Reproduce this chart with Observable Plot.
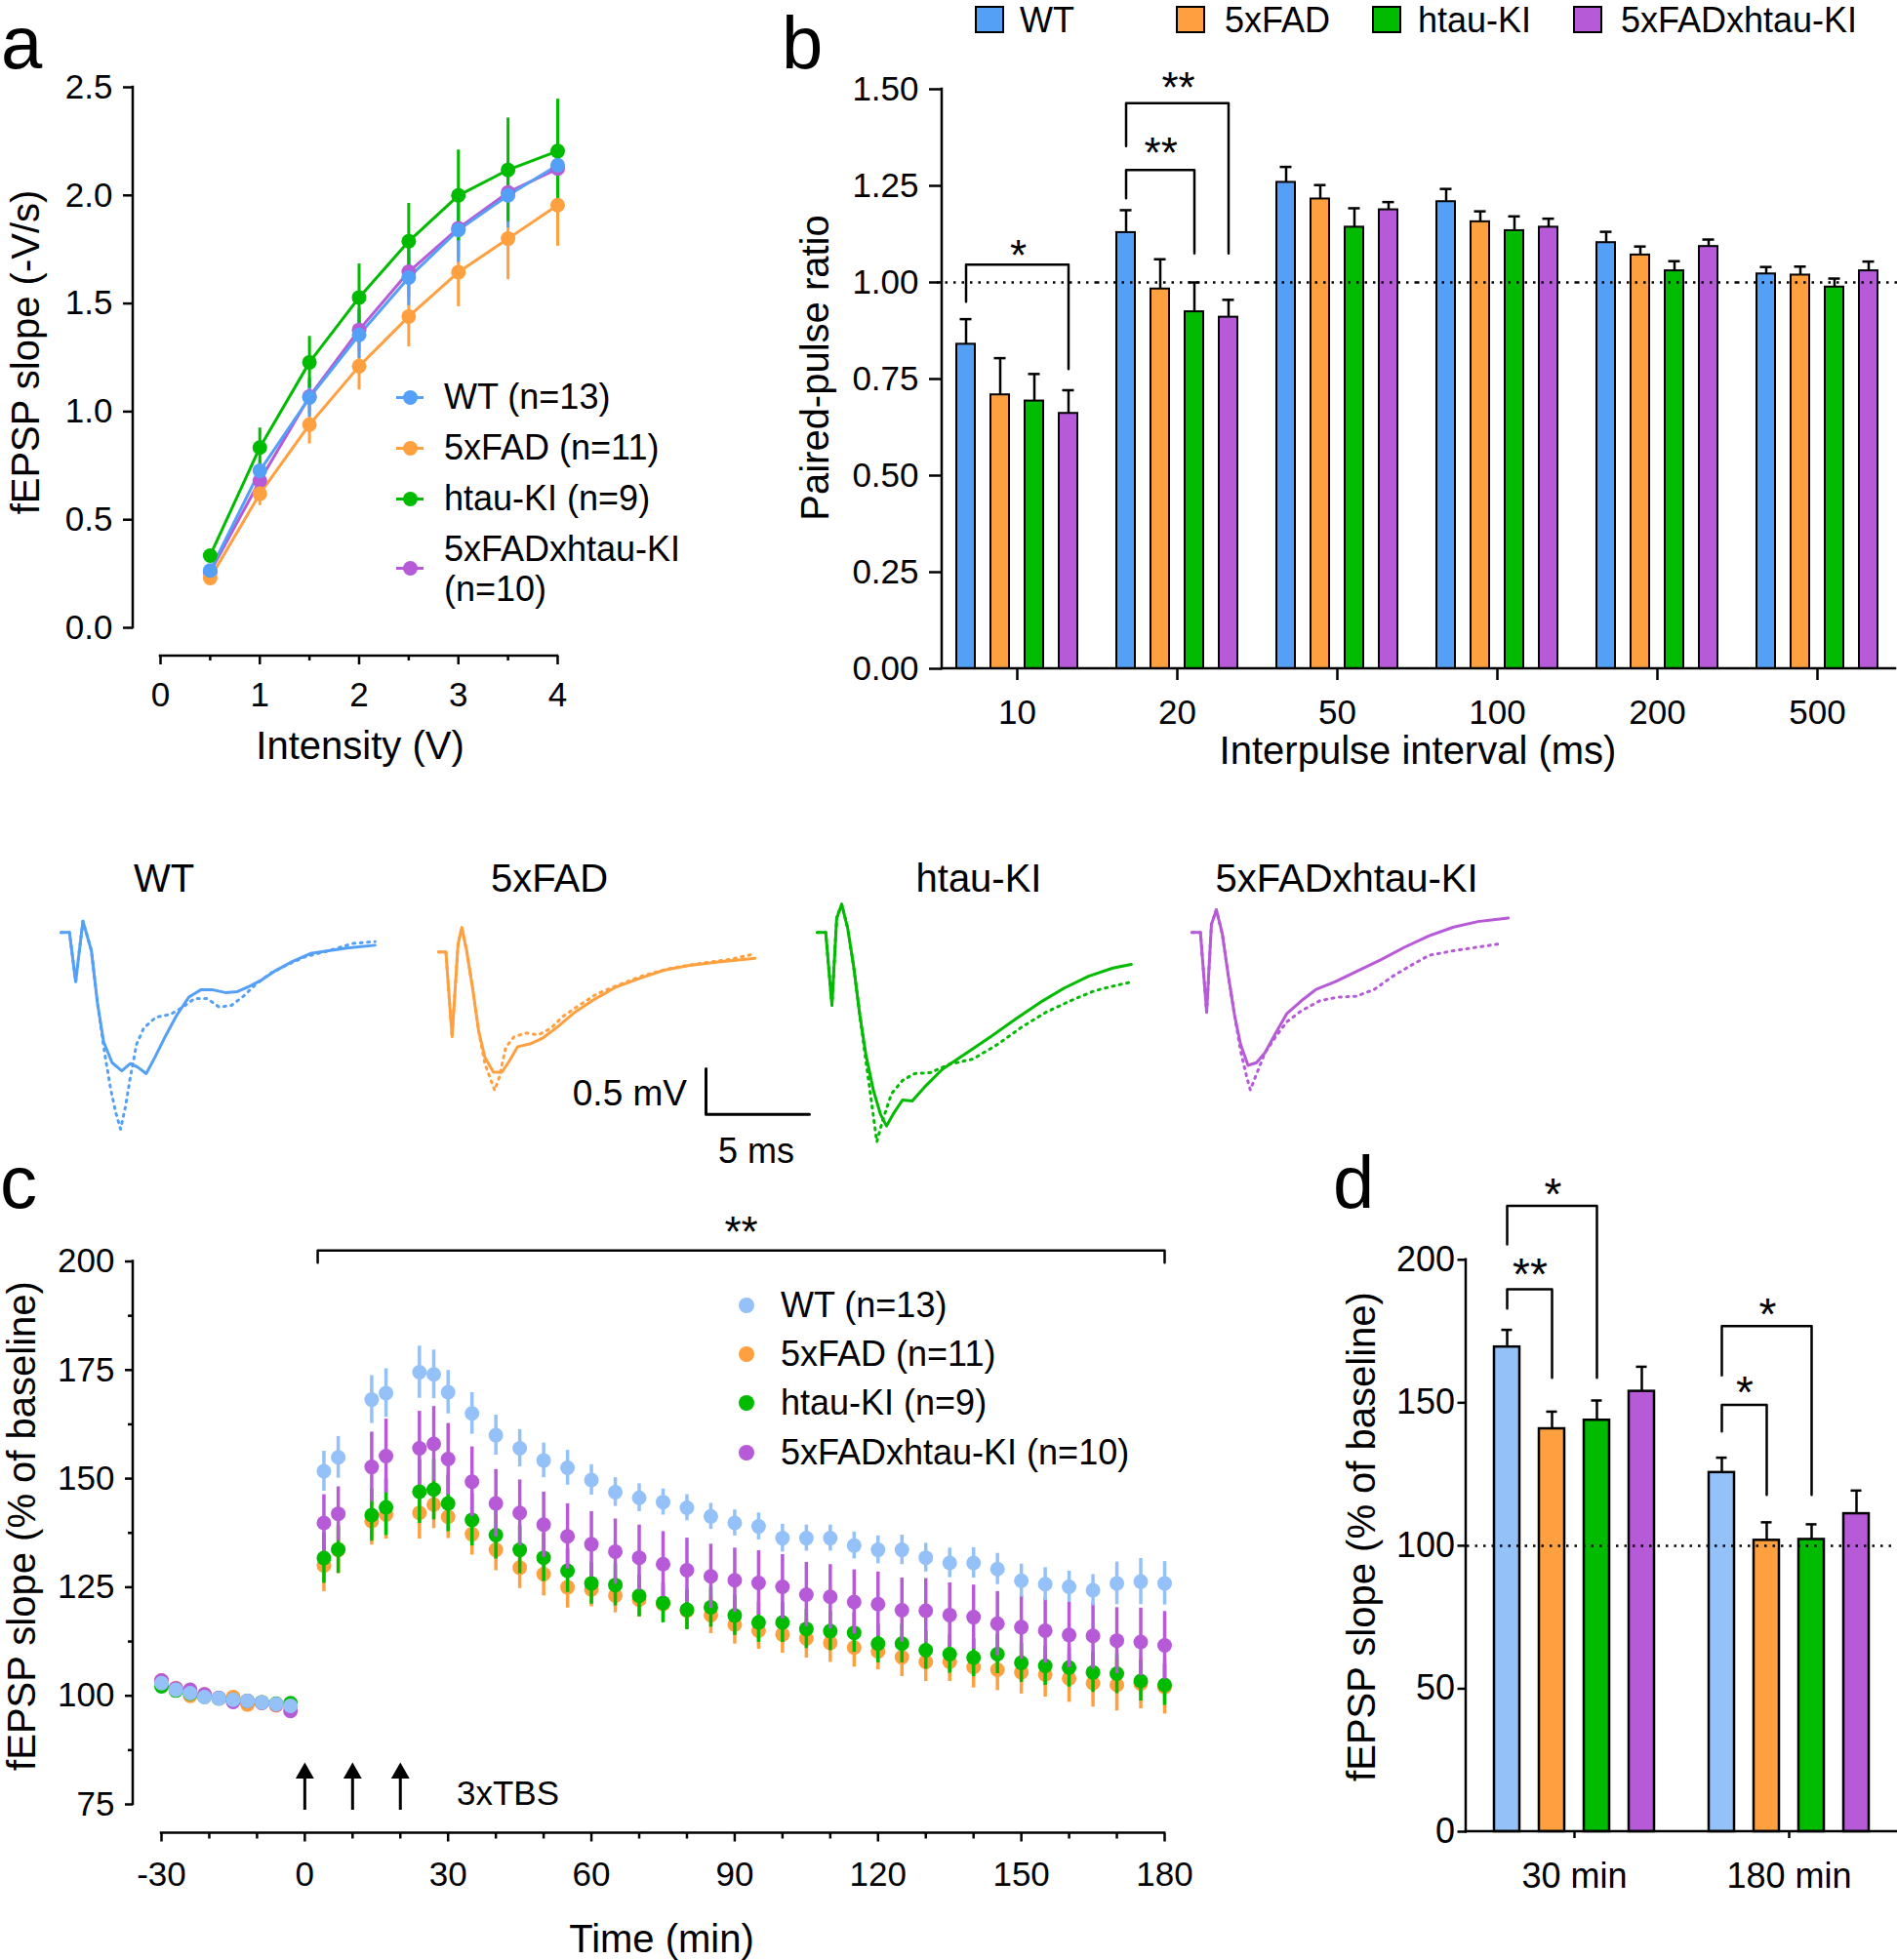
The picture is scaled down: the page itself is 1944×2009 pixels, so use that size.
<!DOCTYPE html>
<html><head><meta charset="utf-8">
<script src="https://cdn.jsdelivr.net/npm/d3@7"></script>
<script src="https://cdn.jsdelivr.net/npm/@observablehq/plot@0.6"></script>
<style>
html,body{margin:0;padding:0;background:#fff;overflow:hidden;}
#fig{position:relative;width:1944px;height:2009px;overflow:hidden;background:#fff;font-family:"Liberation Sans",Arial,Helvetica,sans-serif;color:#000;}
.lbl{position:absolute;white-space:nowrap;line-height:1;}
</style></head><body><div id="fig"></div>
<script>
// ---------------- data ----------------
const genotypes = ["WT", "5xFAD", "htau-KI", "5xFADxhtau-KI"];
const colorsAB = ["#55A0F7", "#FFA040", "#00BB00", "#B65AD8"];
const colorsCD = ["#94C1F8", "#FFA040", "#00BB00", "#B65AD8"];

// panel a: input-output
const intensity = [0.5, 1, 1.5, 2, 2.5, 3, 3.5, 4];
const aWT = [0.265, 0.726, 1.065, 1.355, 1.62, 1.84, 2.00, 2.14];
const aWTerr = [0.02, 0.05, 0.09, 0.11, 0.13, 0.15, 0.15, 0.15];
const a5x = [0.23, 0.62, 0.94, 1.21, 1.44, 1.645, 1.80, 1.955];
const a5xerr = [0.02, 0.055, 0.09, 0.11, 0.14, 0.16, 0.19, 0.19];
const aHt = [0.334, 0.834, 1.228, 1.528, 1.788, 2.0, 2.118, 2.205];
const aHterr = [0.02, 0.09, 0.12, 0.155, 0.175, 0.21, 0.24, 0.24];
const aDb = [0.258, 0.68, 1.07, 1.378, 1.647, 1.848, 2.014, 2.124];
const aDberr = [0.02, 0.05, 0.08, 0.10, 0.12, 0.14, 0.14, 0.14];
const aLegend = ["WT (n=13)", "5xFAD (n=11)", "htau-KI (n=9)", "5xFADxhtau-KI|(n=10)"];

// panel b: paired-pulse ratio
const intervals = ["10", "20", "50", "100", "200", "500"];
const bWT = [0.840, 1.129, 1.259, 1.209, 1.103, 1.022];
const bWTerr = [0.065, 0.058, 0.040, 0.033, 0.028, 0.018];
const b5x = [0.709, 0.983, 1.216, 1.157, 1.071, 1.019];
const b5xerr = [0.095, 0.077, 0.036, 0.027, 0.022, 0.022];
const bHt = [0.693, 0.924, 1.143, 1.134, 1.030, 0.988];
const bHterr = [0.070, 0.076, 0.049, 0.037, 0.025, 0.022];
const bDb = [0.661, 0.910, 1.188, 1.143, 1.093, 1.030];
const bDberr = [0.060, 0.045, 0.020, 0.022, 0.018, 0.024];
const bBrackets = [
  {iv: "10", from: 0, to: 3, yl: 0.95, yt: 1.046, yr: 0.776, starY: 1.091, star: "*"},
  {iv: "20", from: 0, to: 2, yl: 1.218, yt: 1.291, yr: 1.075, starY: 1.355, star: "**"},
  {iv: "20", from: 0, to: 3, yl: 1.353, yt: 1.464, yr: 1.075, starY: 1.523, star: "**"}
];

// sample traces (ms, mV): solid = baseline, dotted = after LTP
const trWTsolid = [[0,0],[0.41,0],[0.71,-0.54],[1.06,0.125],[1.47,-0.20],[1.76,-0.77],[2.06,-1.20],[2.47,-1.43],[2.94,-1.52],[3.35,-1.44],[3.71,-1.48],[4.12,-1.55],[4.53,-1.375],[5.0,-1.16],[5.59,-0.91],[6.18,-0.71],[6.76,-0.63],[7.35,-0.63],[7.94,-0.66],[8.53,-0.65],[9.12,-0.59],[9.71,-0.52],[10.29,-0.43],[11.18,-0.32],[12.06,-0.23],[12.94,-0.20],[13.82,-0.17],[15.18,-0.14]];
const trWTdot = [[0,0],[0.41,0],[0.71,-0.54],[1.06,0.125],[1.47,-0.2],[1.76,-0.77],[2.12,-1.34],[2.41,-1.73],[2.65,-1.98],[2.88,-2.16],[3.12,-1.91],[3.35,-1.59],[3.65,-1.23],[4.0,-1.05],[4.59,-0.93],[5.29,-0.90],[5.88,-0.82],[6.47,-0.725],[7.06,-0.725],[7.65,-0.82],[8.24,-0.80],[8.82,-0.70],[9.41,-0.57],[10.12,-0.45],[10.88,-0.36],[11.76,-0.27],[12.94,-0.20],[14.12,-0.12],[15.18,-0.10]];
const tr5xsolid = [[0,0],[0.35,0],[0.65,-0.93],[0.94,0.09],[1.12,0.27],[1.35,0.02],[1.65,-0.41],[1.94,-0.875],[2.24,-1.16],[2.65,-1.32],[3.06,-1.32],[3.41,-1.20],[3.82,-1.04],[4.41,-1.01],[5.0,-0.95],[5.76,-0.82],[6.59,-0.66],[7.53,-0.52],[8.53,-0.39],[9.71,-0.29],[10.88,-0.20],[12.06,-0.15],[13.53,-0.11],[15.29,-0.07]];
const tr5xdot = [[0,0],[0.35,0],[0.65,-0.93],[0.94,0.09],[1.12,0.27],[1.35,0.02],[1.65,-0.41],[1.94,-0.875],[2.24,-1.23],[2.53,-1.41],[2.71,-1.52],[2.94,-1.37],[3.24,-1.05],[3.65,-0.93],[4.24,-0.89],[4.82,-0.91],[5.41,-0.84],[6.0,-0.71],[6.76,-0.59],[7.65,-0.46],[8.71,-0.36],[9.88,-0.26],[11.18,-0.18],[12.65,-0.125],[14.12,-0.08],[15.29,-0.02]];
const trHtsolid = [[0,0],[0.41,0],[0.71,-0.80],[0.94,0.16],[1.18,0.31],[1.47,0.05],[1.76,-0.375],[2.06,-0.91],[2.35,-1.34],[2.71,-1.73],[3.06,-2.0],[3.35,-2.125],[3.71,-1.98],[4.12,-1.84],[4.59,-1.85],[5.18,-1.70],[6.06,-1.50],[7.24,-1.32],[8.41,-1.14],[9.59,-0.95],[10.76,-0.77],[11.94,-0.61],[13.12,-0.48],[14.29,-0.39],[15.18,-0.35]];
const trHtdot = [[0,0],[0.41,0],[0.71,-0.80],[0.94,0.16],[1.18,0.31],[1.47,0.05],[1.76,-0.375],[2.06,-0.91],[2.35,-1.41],[2.65,-1.91],[2.88,-2.30],[3.18,-2.05],[3.59,-1.77],[4.12,-1.625],[4.71,-1.55],[5.47,-1.54],[6.35,-1.45],[7.53,-1.39],[8.71,-1.23],[9.88,-1.04],[11.06,-0.875],[12.24,-0.75],[13.41,-0.64],[14.29,-0.59],[15.06,-0.55]];
const trDbsolid = [[0,0],[0.41,0],[0.71,-0.875],[0.94,0.09],[1.18,0.25],[1.47,-0.02],[1.76,-0.48],[2.06,-0.91],[2.35,-1.23],[2.71,-1.46],[3.12,-1.43],[3.53,-1.32],[4.0,-1.125],[4.59,-0.89],[5.29,-0.75],[6.0,-0.625],[6.94,-0.54],[7.94,-0.43],[9.12,-0.30],[10.29,-0.16],[11.47,-0.036],[12.65,0.06],[13.82,0.12],[15.29,0.16]];
const trDbdot = [[0,0],[0.41,0],[0.71,-0.875],[0.94,0.09],[1.18,0.25],[1.47,-0.02],[1.76,-0.48],[2.06,-0.91],[2.35,-1.30],[2.65,-1.59],[2.82,-1.73],[3.06,-1.59],[3.53,-1.32],[4.0,-1.16],[4.59,-0.98],[5.29,-0.86],[6.18,-0.75],[7.06,-0.71],[7.94,-0.70],[8.82,-0.625],[9.71,-0.48],[10.59,-0.36],[11.47,-0.25],[12.65,-0.20],[13.82,-0.16],[15.0,-0.12]];
const scaleBarMs = 5, scaleBarMv = 0.5;

// panel c: LTP time course
const cTimes = [-30,-27,-24,-21,-18,-15,-12,-9,-6,-3,4,7,14,17,24,27,30,35,40,45,50,55,60,65,70,75,80,85,90,95,100,105,110,115,120,125,130,135,140,145,150,155,160,165,170,175,180];
const cWT = [102.9,101.4,100.6,99.7,99.4,99.1,98.8,98.5,98.1,97.7, 151.7,154.9,168.2,169.7,174.5,174.0,169.9, 165.0,160.0,157.0,154.2,152.5,149.7,146.9,145.6,144.6,143.3, 141.3,139.8,139.0,136.3,136.3,136.3,134.6,133.6,133.6,131.8, 130.6,130.6,129.2,126.5,125.7,125.1,124.3,125.9,126.3,125.9];
const cWTerr = [1.2,1,1,1,1,1,1,1,1,1, 4.6,4.8,5.5,5.6,6.0,5.6,5.0, 4.8,4.6,4.3,4.0,4.0,3.5,3.3,3.2,3.0,3.0, 3.0,3.0,3.1,3.2,3.0,3.0,3.1,3.2,3.4,3.3, 3.4,3.5,3.6,3.8,3.8,3.6,3.6,4.9,5.3,5.0];
const c5x = [103.5,101.8,100.0,100.3,99.4,99.7,98.0,98.5,97.8,97.5, 130.0,133.6,140.2,141.7,142.1,144.0,141.2, 137.2,133.6,129.5,128.0,125.0,124.5,123.1,122.1,121.1,119.6, 118.6,116.4,115.0,114.1,113.2,112.2,111.1,110.2,108.9,107.8, 107.8,106.6,106.0,105.4,104.9,104.0,102.9,102.5,102.8,102.0];
const c5xerr = [1,1,1,1,1,1,1,1,1,1, 6.0,5.5,5.5,5.6,6.0,5.5,5.0, 4.8,4.8,4.8,5.0,4.8,4.0,4.0,4.0,4.0,4.2, 4.3,4.5,4.3,4.3,4.5,4.5,4.5,4.2,4.5,4.5, 4.5,4.8,4.8,5.0,5.2,5.5,5.5,6.0,5.8,6.2];
const cHt = [102.2,101.2,100.5,99.8,99.4,99.0,98.8,98.5,98.2,98.3, 131.7,133.7,141.6,143.4,147.0,147.5,144.3, 140.5,137.0,133.6,131.8,128.8,125.9,125.5,123.0,121.4,119.8, 120.4,118.5,116.9,116.9,115.4,114.9,114.5,112.0,112.0,110.5, 109.6,108.8,109.6,107.6,106.9,106.5,105.4,105.1,103.4,102.5];
const cHterr = [1,1,1,1,1,1,1,1,1,1, 5.8,5.5,6.0,6.5,7.3,7.0,6.5, 6.0,5.5,5.5,5.5,5.0,4.8,4.8,4.8,4.6,4.6, 4.6,4.6,4.6,4.6,4.5,4.5,4.5,4.4,4.4,4.4, 4.4,4.4,4.5,4.5,4.5,4.5,4.6,4.6,4.6,4.7];
const cDb = [103.5,101.7,101.4,100.3,99.5,98.6,98.8,98.4,98.0,96.5, 139.8,141.9,152.7,155.2,157.0,158.0,154.5, 149.3,144.3,142.1,139.4,136.7,134.9,133.2,131.8,130.3,128.9, 127.5,126.6,126.0,125.1,123.3,122.8,121.6,121.1,119.7,119.6, 118.6,118.1,116.6,115.8,115.0,114.0,113.8,112.7,112.4,111.6];
const cDberr = [1,1,1,1,1,1,1,1,1,1, 6.5,6.2,8.0,8.5,8.5,8.6,8.2, 8.0,7.8,7.6,7.5,7.5,7.5,7.5,7.5,7.5,7.4, 7.4,7.4,7.4,7.4,7.4,7.4,7.4,7.4,7.4,7.4, 7.4,7.4,7.4,7.4,7.5,7.5,7.6,7.6,7.8,7.8];
const cLegend = ["WT (n=13)", "5xFAD (n=11)", "htau-KI (n=9)", "5xFADxhtau-KI (n=10)"];
const tbsTimes = [0, 10, 20];
const cBracket = {t1: 2.7, t2: 180, yTop: 202.5, yEnd: 199.7, starY: 208.6, star: "**"};

// panel d: LTP magnitude
const dGroups = ["30 min", "180 min"];
const dWT = [169.5, 125.6], dWTerr = [6.0, 5.2];
const d5x = [140.9, 101.9], d5xerr = [6.0, 6.3];
const dHt = [143.9, 102.2], dHterr = [6.9, 5.3];
const dDb = [154.0, 111.2], dDberr = [8.6, 8.1];
const dBrackets = [
  {grp: "30 min", from: 0, to: 1, yl: 183, yt: 189.7, yr: 158.7, starY: 197.6, star: "**"},
  {grp: "30 min", from: 0, to: 2, yl: 205.4, yt: 218.9, yr: 158.7, starY: 225.6, star: "*"},
  {grp: "180 min", from: 0, to: 1, yl: 140, yt: 149.3, yr: 117.8, starY: 156.4, star: "*"},
  {grp: "180 min", from: 0, to: 2, yl: 159.6, yt: 176.8, yr: 117.8, starY: 183.6, star: "*"}
];

// ---------------- helpers ----------------
const FONT = '"Liberation Sans", Arial, Helvetica, sans-serif';
const fig = document.getElementById("fig");
const plain = d => String(d);
function place(node, left, top) {
  node.style.position = "absolute"; node.style.left = left + "px"; node.style.top = top + "px";
  fig.appendChild(node); return node;
}
function label(text, x, y, {size = 36, anchor = "middle", rotate = 0} = {}) {
  const d = document.createElement("div");
  d.className = "lbl"; d.textContent = text;
  d.style.fontSize = size + "px"; d.style.left = x + "px"; d.style.top = y + "px";
  const tx = anchor === "middle" ? "-50%" : anchor === "end" ? "-100%" : "0";
  d.style.transform = `translate(${tx},-50%)` + (rotate ? ` rotate(${rotate}deg)` : "");
  fig.appendChild(d); return d;
}
function letter(text, left, baseline, size = 76) {
  const d = document.createElement("div");
  d.className = "lbl"; d.textContent = text; d.style.fontSize = size + "px";
  d.style.lineHeight = "0.75";
  d.style.left = left + "px"; d.style.top = (baseline - 0.7215 * size) + "px";
  fig.appendChild(d);
}
function box(left, top, w, h, css) {
  const d = document.createElement("div");
  d.style.cssText = `position:absolute;left:${left}px;top:${top}px;width:${w}px;height:${h}px;box-sizing:border-box;${css}`;
  fig.appendChild(d);
}
function addLine(svg, x1, y1, x2, y2, w = 2.5) {
  d3.select(svg).append("line").attr("x1", x1).attr("y1", y1).attr("x2", x2).attr("y2", y2)
    .attr("stroke", "black").attr("stroke-width", w).attr("stroke-linecap", "square");
}
const baseStyle = (fs) => ({fontFamily: FONT, fontSize: fs + "px", color: "black", background: "transparent", overflow: "visible"});

// ---------------- panel a ----------------
const aVals = [aWT, a5x, aHt, aDb], aErrs = [aWTerr, a5xerr, aHterr, aDberr];
const aData = [];
for (const gi of [3, 1, 0, 2]) intensity.forEach((x, i) => aData.push({g: genotypes[gi], x, y: aVals[gi][i], e: aErrs[gi][i]}));
{
  const W = 720, H = 800, ML = 136, MB = 128;
  const plotA = Plot.plot({
    width: W, height: H, marginLeft: ML, marginRight: 149, marginTop: 89, marginBottom: MB,
    style: baseStyle(35),
    x: {domain: [0, 4], insetLeft: 28, label: null},
    y: {domain: [0, 2.5], insetBottom: 29, label: null},
    color: {domain: genotypes, range: colorsAB},
    marks: [
      Plot.axisY({ticks: [0, 0.5, 1, 1.5, 2, 2.5], tickFormat: d3.format(".1f"), tickSize: 10, tickPadding: 11, strokeWidth: 2.5, label: null, fontSize: 35}),
      Plot.axisX({ticks: [0, 1, 2, 3, 4], tickFormat: plain, tickSize: 9, tickPadding: 18, strokeWidth: 2.5, label: null, fontSize: 35}),
      Plot.axisX({ticks: [0.5, 1.5, 2.5, 3.5], tickSize: 5, tickFormat: () => "", strokeWidth: 2.5, label: null}),
      Plot.ruleX(aData, {x: "x", y1: d => d.y - d.e, y2: d => d.y + d.e, stroke: "g", strokeWidth: 3}),
      Plot.line(aData, {x: "x", y: "y", z: "g", stroke: "g", strokeWidth: 3}),
      Plot.dot(aData, {x: "x", y: "y", fill: "g", r: 7.5})
    ]
  });
  const xs = plotA.scale("x"), ys = plotA.scale("y");
  addLine(plotA, ML, ys.apply(0), ML, ys.apply(2.5));
  addLine(plotA, xs.apply(0), H - MB, xs.apply(4), H - MB);
  place(plotA, 0, 0);
}
letter("a", 1, 70);
label("fEPSP slope (-V/s)", 26, 361, {size: 40, rotate: -90});
label("Intensity (V)", 369, 764, {size: 40});
{
  const rows = [407, 459, 511, 582];
  aLegend.forEach((t, i) => {
    const y = rows[i], c = colorsAB[i];
    box(406, y - 1.5, 28, 3, `background:${c}`);
    box(412.5, y - 7.5, 15, 15, `background:${c};border-radius:50%`);
    const parts = t.split("|");
    if (parts.length === 1) label(parts[0], 455, y, {anchor: "start", size: 36});
    else { label(parts[0], 455, y - 19, {anchor: "start", size: 36}); label(parts[1], 455, y + 22, {anchor: "start", size: 36}); }
  });
}

// ---------------- panel b ----------------
const bVals = [bWT, b5x, bHt, bDb], bErrs = [bWTerr, b5xerr, bHterr, bDberr];
const bData = [];
intervals.forEach((iv, i) => genotypes.forEach((g, gi) => bData.push({iv, g, y: bVals[gi][i], e: bErrs[gi][i]})));
const bLines = [];
bBrackets.forEach((b, k) => {
  const f = genotypes[b.from], t = genotypes[b.to];
  bLines.push({k, iv: b.iv, g: f, y: b.yl}, {k, iv: b.iv, g: f, y: b.yt}, {k, iv: b.iv, g: t, y: b.yt}, {k, iv: b.iv, g: t, y: b.yr});
});
{
  const W = 1184, H = 800, ML = 205, MB = 115, stepB = 35.73;
  const plotB = Plot.plot({
    width: W, height: H, marginLeft: 200, marginRight: 0, marginTop: 91, marginBottom: MB,
    style: baseStyle(35),
    fx: {domain: intervals, paddingInner: 0, paddingOuter: 0, label: null},
    x: {domain: genotypes, paddingInner: 0.468, paddingOuter: 0.529, axis: null},
    y: {domain: [0, 1.5], axis: null},
    color: {domain: genotypes, range: colorsAB},
    marks: [
      Plot.axisFx({anchor: "bottom", tickSize: 12, tickPadding: 20, strokeWidth: 2.5, label: null, fontSize: 35}),
      Plot.axisY({ticks: [0, 0.25, 0.5, 0.75, 1, 1.25, 1.5], tickFormat: d3.format(".2f"), tickSize: 13, tickPadding: 11, strokeWidth: 2.5, label: null, fontSize: 35, dx: 5}),
      Plot.ruleX(bData, {fx: "iv", x: "g", y1: "y", y2: d => d.y + d.e, strokeWidth: 2.5}),
      Plot.tickY(bData, {fx: "iv", x: "g", y: d => d.y + d.e, insetLeft: 3.5, insetRight: 3.5, strokeWidth: 2.5}),
      Plot.barY(bData, {fx: "iv", x: "g", y: "y", fill: "g", stroke: "black", strokeWidth: 2}),
      Plot.ruleY([1], {stroke: "black", strokeDasharray: "2.5,6", strokeWidth: 2.5}),
      Plot.line(bLines, {fx: "iv", x: "g", y: "y", z: "k", stroke: "black", strokeWidth: 2.5}),
      ...bBrackets.map(b => Plot.text([b], {fx: "iv", x: () => genotypes[b.from], y: "starY", text: "star",
        dx: (b.to - b.from) * stepB / 2, dy: 9, fontSize: 44, lineAnchor: "middle"}))
    ]
  });
  const ys = plotB.scale("y");
  addLine(plotB, ML, ys.apply(0), ML, ys.apply(1.5));
  addLine(plotB, ML, H - MB, W - 2, H - MB);
  place(plotB, 760, 0);
}
letter("b", 801, 70);
label("Paired-pulse ratio", 835, 377, {size: 40, rotate: -90});
label("Interpulse interval (ms)", 1453, 769, {size: 40});
{
  const sq = [999, 1205, 1406, 1612], tx = [1045, 1255, 1453, 1661];
  genotypes.forEach((g, i) => {
    box(sq[i], 6, 30, 28, `background:${colorsAB[i]};border:2.5px solid #000`);
    label(g, tx[i], 21, {anchor: "start", size: 36});
  });
}

// ---------------- traces ----------------
const PXMS = 21.2, PXMV = 93.3, TM = 6;
function tracePlot(solid, dotted, color, x0, y0) {
  const xd = [0, 15.6], yd = [-2.4, 0.4];
  const p = Plot.plot({
    width: 2 * TM + (xd[1] - xd[0]) * PXMS, height: 2 * TM + (yd[1] - yd[0]) * PXMV,
    margin: TM, style: baseStyle(30),
    x: {domain: xd, axis: null}, y: {domain: yd, axis: null},
    marks: [
      Plot.line(dotted, {x: d => d[0], y: d => d[1], stroke: color, strokeWidth: 3, strokeDasharray: "2,5.5"}),
      Plot.line(solid, {x: d => d[0], y: d => d[1], stroke: color, strokeWidth: 3})
    ]
  });
  place(p, x0 - TM, y0 - yd[1] * PXMV - TM);
}
tracePlot(trWTsolid, trWTdot, colorsAB[0], 62, 955);
tracePlot(tr5xsolid, tr5xdot, colorsAB[1], 449, 975);
tracePlot(trHtsolid, trHtdot, colorsAB[2], 837, 955);
tracePlot(trDbsolid, trDbdot, colorsAB[3], 1221, 955);
{
  const bar = [{t: 0, v: scaleBarMv}, {t: 0, v: 0}, {t: scaleBarMs, v: 0}];
  const p = Plot.plot({
    width: 2 * TM + scaleBarMs * PXMS, height: 2 * TM + scaleBarMv * PXMV, margin: TM,
    style: baseStyle(30),
    x: {domain: [0, scaleBarMs], axis: null}, y: {domain: [0, scaleBarMv], axis: null},
    marks: [Plot.line(bar, {x: "t", y: "v", stroke: "black", strokeWidth: 3})]
  });
  place(p, 723 - TM, 1095 - TM);
}
label("0.5 mV", 704, 1120, {size: 37, anchor: "end"});
label("5 ms", 775, 1180, {size: 36});
[["WT", 168], ["5xFAD", 563], ["htau-KI", 1003], ["5xFADxhtau-KI", 1380]].forEach(([t, x]) => label(t, x, 900, {size: 40}));

// ---------------- panel c ----------------
const cVals = [cWT, c5x, cHt, cDb], cErrs = [cWTerr, c5xerr, cHterr, cDberr];
{
  const W = 1250, H = 809, ML = 136, MB = 130.5;
  const order = [1, 2, 3, 0];
  const seriesMarks = [];
  for (const gi of order) {
    const data = cTimes.map((t, i) => ({t, y: cVals[gi][i], e: cErrs[gi][i]}));
    seriesMarks.push(
      Plot.ruleX(data, {x: "t", y1: d => d.y - d.e, y2: d => d.y + d.e, stroke: colorsCD[gi], strokeWidth: 3.5}),
      Plot.dot(data, {x: "t", y: "y", fill: colorsCD[gi], r: 7.5})
    );
  }
  const br = [{t: cBracket.t1, y: cBracket.yEnd}, {t: cBracket.t1, y: cBracket.yTop}, {t: cBracket.t2, y: cBracket.yTop}, {t: cBracket.t2, y: cBracket.yEnd}];
  const plotC = Plot.plot({
    width: W, height: H, marginLeft: ML, marginRight: 57, marginTop: 92.5, marginBottom: MB,
    style: baseStyle(35),
    x: {domain: [-30, 180], insetLeft: 29, label: null},
    y: {domain: [75, 200], insetBottom: 29.5, label: null},
    marks: [
      Plot.axisY({ticks: [75, 100, 125, 150, 175, 200], tickFormat: plain, tickSize: 8, tickPadding: 11, strokeWidth: 2.5, label: null, fontSize: 35}),
      Plot.axisY({ticks: [87.5, 112.5, 137.5, 162.5, 187.5], tickSize: 5, tickFormat: () => "", strokeWidth: 2.5, label: null}),
      Plot.axisX({ticks: [-30, 0, 30, 60, 90, 120, 150, 180], tickFormat: plain, tickSize: 9, tickPadding: 20, strokeWidth: 2.5, label: null, fontSize: 35}),
      Plot.axisX({ticks: [-20, -10, 10, 20, 40, 50, 70, 80, 100, 110, 130, 140, 160, 170], tickSize: 6, tickFormat: () => "", strokeWidth: 2.5, label: null}),
      ...seriesMarks,
      Plot.line(br, {x: "t", y: "y", stroke: "black", strokeWidth: 2.5}),
      Plot.text([cBracket], {x: d => (d.t1 + d.t2) / 2, y: "starY", text: "star", fontSize: 44, dy: 9, lineAnchor: "middle"}),
      Plot.ruleX(tbsTimes, {x: d => d, y1: 73.65, y2: 82.2, stroke: "black", strokeWidth: 3}),
      Plot.dot(tbsTimes, {x: d => d, y: 82.2, symbol: "triangle", r: 7, fill: "black"})
    ]
  });
  const xs = plotC.scale("x"), ys = plotC.scale("y");
  addLine(plotC, ML, ys.apply(75), ML, ys.apply(200));
  addLine(plotC, xs.apply(-30), H - MB, xs.apply(180), H - MB);
  place(plotC, 0, 1200);
}
letter("c", 0, 1238);
label("fEPSP slope (% of baseline)", 22, 1564, {size: 40, rotate: -90});
label("Time (min)", 678, 1987, {size: 40});
label("3xTBS", 468, 1837, {size: 35, anchor: "start"});
{
  const rows = [1338, 1388, 1438, 1489];
  cLegend.forEach((t, i) => {
    box(757, rows[i] - 8, 16, 16, `background:${colorsCD[i]};border-radius:50%`);
    label(t, 800, rows[i], {anchor: "start", size: 36});
  });
}

// ---------------- panel d ----------------
const dVals = [dWT, d5x, dHt, dDb], dErrs = [dWTerr, d5xerr, dHterr, dDberr];
const dData = [];
dGroups.forEach((grp, i) => genotypes.forEach((g, gi) => dData.push({grp, g, y: dVals[gi][i], e: dErrs[gi][i]})));
const dLines = [];
dBrackets.forEach((b, k) => {
  const f = genotypes[b.from], t = genotypes[b.to];
  dLines.push({k, grp: b.grp, g: f, y: b.yl}, {k, grp: b.grp, g: f, y: b.yt}, {k, grp: b.grp, g: t, y: b.yt}, {k, grp: b.grp, g: t, y: b.yr});
});
{
  const W = 644, H = 859, ML = 202, MB = 132, stepD = 47;
  const plotD = Plot.plot({
    width: W, height: H, marginLeft: ML, marginRight: 1, marginTop: 140.8, marginBottom: MB,
    style: baseStyle(36),
    fx: {domain: dGroups, paddingInner: 0, paddingOuter: 0, label: null},
    x: {domain: genotypes, paddingInner: 0.426, paddingOuter: 0.558, axis: null},
    y: {domain: [0, 200], axis: null},
    color: {domain: genotypes, range: colorsCD},
    marks: [
      Plot.axisFx({anchor: "bottom", tickSize: 7, tickPadding: 25, strokeWidth: 2.5, label: null, fontSize: 36}),
      Plot.axisY({ticks: [0, 50, 100, 150, 200], tickFormat: plain, tickSize: 9.5, tickPadding: 3, strokeWidth: 2.5, label: null, fontSize: 36}),
      Plot.ruleX(dData, {fx: "grp", x: "g", y1: "y", y2: d => d.y + d.e, strokeWidth: 2.5}),
      Plot.tickY(dData, {fx: "grp", x: "g", y: d => d.y + d.e, insetLeft: 7.5, insetRight: 7.5, strokeWidth: 2.5}),
      Plot.barY(dData, {fx: "grp", x: "g", y: "y", fill: "g", stroke: "black", strokeWidth: 2.5}),
      Plot.ruleY([100], {stroke: "black", strokeDasharray: "2.5,6", strokeWidth: 2.5}),
      Plot.line(dLines, {fx: "grp", x: "g", y: "y", z: "k", stroke: "black", strokeWidth: 2.5}),
      ...dBrackets.map(b => Plot.text([b], {fx: "grp", x: () => genotypes[b.from], y: "starY", text: "star",
        dx: (b.to - b.from) * stepD / 2, dy: 9, fontSize: 46, lineAnchor: "middle"}))
    ]
  });
  const ys = plotD.scale("y");
  addLine(plotD, ML, ys.apply(0), ML, ys.apply(200));
  addLine(plotD, ML, H - MB, W - 1, H - MB);
  place(plotD, 1300, 1150);
}
letter("d", 1366, 1238);
label("fEPSP slope (% of baseline)", 1395, 1575, {size: 40, rotate: -90});
</script></body></html>
